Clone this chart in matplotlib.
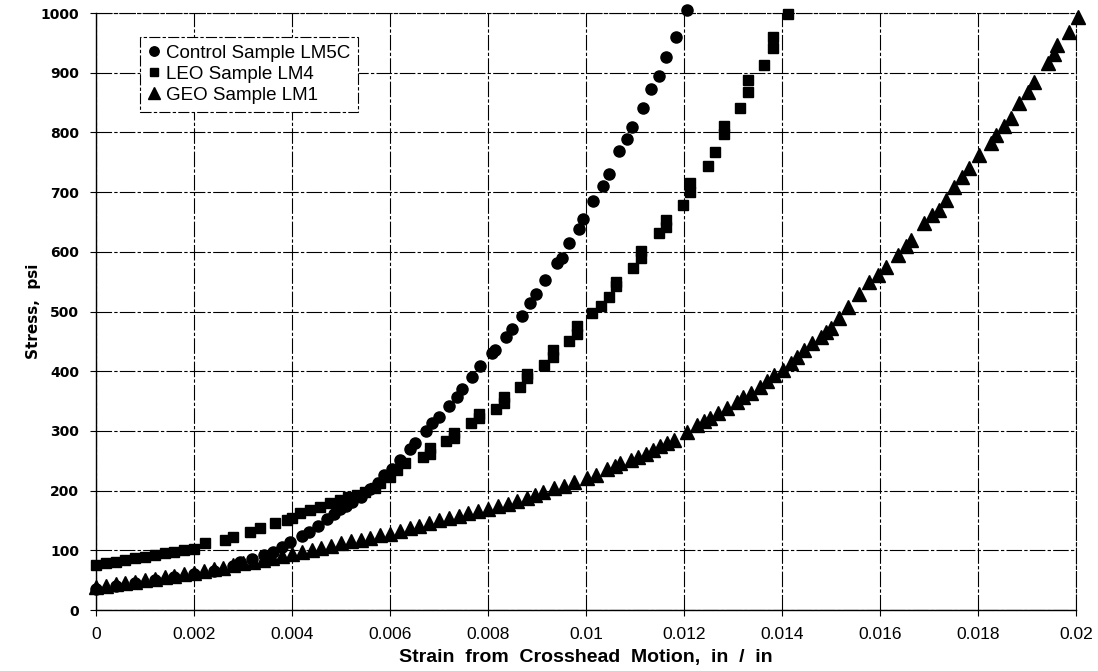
#!/usr/bin/env python3
import matplotlib

matplotlib.use("Agg")
from matplotlib import font_manager
import matplotlib.pyplot as plt
from matplotlib.ticker import FixedLocator

# strain (in/in) and stress (psi)
CONTROL_X = [
    0.0, 0.0004, 0.0008, 0.0012, 0.0016, 0.002, 0.0024, 0.0028,
    0.00294, 0.00318, 0.00342, 0.00362, 0.00379, 0.00396, 0.0042, 0.00434, 0.00454, 0.00471,
    0.00485, 0.00498, 0.0051, 0.00522, 0.0054, 0.0056, 0.00575, 0.00587, 0.00604, 0.00621,
    0.0064, 0.00652, 0.00674, 0.00686, 0.00699, 0.0072, 0.00737, 0.00747, 0.00768, 0.00783,
    0.00808, 0.00815, 0.00836, 0.00848, 0.0087, 0.00886, 0.00898, 0.00917, 0.00941, 0.00951,
    0.00965, 0.00986, 0.00994, 0.01014, 0.01035, 0.01047, 0.01068, 0.01084, 0.01094, 0.01116,
    0.01132, 0.01148, 0.01164, 0.01183, 0.01207,
]
CONTROL_Y = [
    36, 41, 45, 50, 55, 60, 66, 73,
    80, 86, 92, 98, 106, 114, 124, 130, 141, 152,
    161, 169, 175, 181, 190, 202, 213, 226, 237, 252,
    270, 280, 300, 313, 324, 342, 357, 370, 390, 409,
    430, 436, 458, 470, 493, 515, 530, 552, 581, 589,
    614, 639, 655, 685, 711, 731, 769, 789, 809, 841,
    872, 894, 926, 959, 1005,
]

LEO_X = [
    0.0, 0.0002, 0.0004, 0.0006, 0.0008, 0.001, 0.0012, 0.0014, 0.0016, 0.0018, 0.002,
    0.00223, 0.00264, 0.0028, 0.00315, 0.00335, 0.00366, 0.0039, 0.004, 0.00417, 0.00437,
    0.00458, 0.00478, 0.00498, 0.00515, 0.00533, 0.0055, 0.0057, 0.0058, 0.006, 0.00615,
    0.00631, 0.00667, 0.00682, 0.00682, 0.00715, 0.0073, 0.0073, 0.00766, 0.00781, 0.00781,
    0.00817, 0.00832, 0.00832, 0.00865, 0.0088, 0.0088, 0.00915, 0.00933, 0.00933, 0.00965,
    0.00982, 0.00982, 0.01013, 0.0103, 0.01047, 0.01062, 0.01062, 0.01095, 0.01113, 0.01113,
    0.01148, 0.01164, 0.01164, 0.01197, 0.01213, 0.01213, 0.01248, 0.01263, 0.01282, 0.01282,
    0.01314, 0.01331, 0.01331, 0.01363, 0.01382, 0.01382, 0.01412,
]
LEO_Y = [
    75, 78, 81, 84, 87, 89, 92, 95, 97, 100, 103,
    112, 117, 123, 131, 137, 145, 150, 154, 162, 167,
    173, 179, 184, 190, 193, 198, 205, 212, 223, 235,
    246, 256, 262, 271, 283, 288, 297, 313, 321, 329,
    337, 346, 357, 374, 388, 396, 410, 424, 436, 450,
    463, 475, 497, 509, 525, 542, 550, 573, 589, 602,
    632, 642, 654, 678, 701, 716, 743, 768, 798, 811,
    841, 868, 888, 913, 941, 960, 999,
]

GEO_X = [
    0.0, 0.0002, 0.0004, 0.0006, 0.0008, 0.001, 0.0012, 0.0014, 0.0016, 0.0018,
    0.002, 0.0022, 0.0024, 0.0026, 0.0028, 0.003, 0.0032, 0.0034, 0.0036, 0.0038,
    0.004, 0.0042, 0.0044, 0.0046, 0.0048, 0.005, 0.0052, 0.0054, 0.0056, 0.0058,
    0.006, 0.0062, 0.0064, 0.0066, 0.0068, 0.007, 0.0072, 0.0074, 0.0076, 0.0078,
    0.008, 0.0082, 0.0084, 0.0086,
    0.0088, 0.00895, 0.00913, 0.00934, 0.00955, 0.00975, 0.01002, 0.0102, 0.01043, 0.0106,
    0.0107, 0.01091, 0.01106, 0.01122, 0.01137, 0.01152, 0.01166, 0.0118, 0.01207, 0.01227,
    0.0124, 0.01254, 0.0127, 0.01288, 0.01309, 0.0132, 0.01336, 0.01356, 0.0137, 0.01384,
    0.01401, 0.01418, 0.01431, 0.01445, 0.01462, 0.01479, 0.0149, 0.015, 0.01516, 0.01534,
    0.01557, 0.01578, 0.01595, 0.01612, 0.01636, 0.01653, 0.01663, 0.0169, 0.01707, 0.01721,
    0.01734, 0.01751, 0.01768, 0.01782, 0.01802, 0.01826, 0.01837, 0.01854, 0.01867, 0.01884,
    0.01901, 0.01915, 0.01942, 0.01956, 0.01962, 0.01986, 0.02003,
]
GEO_Y = [
    38, 40, 43, 45, 47, 50, 52, 55, 57, 60,
    62, 65, 68, 71, 75, 78, 81, 84, 87, 90,
    93, 97, 101, 104, 108, 112, 115, 118, 121, 125,
    128, 132, 137, 141, 145, 150, 154, 158, 162, 166,
    170, 174, 178, 182,
    187, 192, 197, 204, 207, 215, 221, 226, 237, 242,
    246, 252, 257, 262, 268, 274, 280, 285, 299, 310,
    316, 321, 330, 338, 349, 356, 363, 373, 383, 394,
    402, 413, 424, 436, 447, 458, 465, 472, 489, 508,
    530, 550, 561, 575, 595, 609, 620, 648, 662, 670,
    687, 709, 726, 740, 762, 782, 796, 810, 824, 849,
    868, 885, 916, 932, 946, 969, 994,
]

SERIES_LABELS = ["Control Sample LM5C", "LEO Sample LM4", "GEO Sample LM1"]
X_TICKS = [0.0, 0.002, 0.004, 0.006, 0.008, 0.01, 0.012, 0.014, 0.016, 0.018, 0.02]
X_TICK_LABELS = ["0", "0.002", "0.004", "0.006", "0.008", "0.01", "0.012", "0.014", "0.016", "0.018", "0.02"]
Y_TICKS = [0, 100, 200, 300, 400, 500, 600, 700, 800, 900, 1000]

GRID_STYLE = (0, (14, 2, 3, 2))


def _pick_font(*names: str) -> list[str]:
    available = {font.name for font in font_manager.fontManager.ttflist}
    return [name for name in names if name in available] or ["DejaVu Sans"]


def main() -> None:
    narrow = _pick_font("Liberation Sans Narrow", "Liberation Sans")
    arial = _pick_font("Liberation Sans", "DejaVu Sans")

    fig = plt.figure(figsize=(10.98, 6.71), dpi=100)
    ax = fig.add_axes([0.0874, 0.0909, 0.8926, 0.8897])

    marker_kw = dict(linestyle="none", color="black", clip_on=False, zorder=3)
    ax.plot(CONTROL_X, CONTROL_Y, marker="o", markersize=8, label=SERIES_LABELS[0], **marker_kw)
    ax.plot(LEO_X, LEO_Y, marker="s", markersize=7.5, label=SERIES_LABELS[1], **marker_kw)
    ax.plot(GEO_X, GEO_Y, marker="^", markersize=9.5, label=SERIES_LABELS[2], **marker_kw)

    ax.set_xlim(0, 0.02)
    ax.set_ylim(0, 1000)
    ax.xaxis.set_major_locator(FixedLocator(X_TICKS))
    ax.set_xticklabels(X_TICK_LABELS, family=narrow, fontsize=12.5)
    ax.yaxis.set_major_locator(FixedLocator(Y_TICKS))
    for label in ax.get_yticklabels():
        label.set_fontweight("bold")
        label.set_fontsize(10)
        label.set_family("DejaVu Sans")

    ax.grid(True, color="black", linestyle=GRID_STYLE, linewidth=0.8)
    ax.set_axisbelow(True)
    for side, spine in ax.spines.items():
        spine.set_color("black")
        spine.set_linewidth(1.0 if side in ("left", "bottom") else 0.8)
        if side in ("top", "right"):
            spine.set_linestyle(GRID_STYLE)
    ax.tick_params(direction="out", length=4, width=0.8, colors="black", pad=8)

    ax.set_xlabel("Strain  from  Crosshead  Motion,  in  /  in", family=narrow,
                  fontweight="bold", fontsize=14, labelpad=5)
    ax.set_ylabel("Stress,  psi", family="DejaVu Sans", fontweight="bold", fontsize=11, labelpad=0)

    legend = ax.legend(
        loc="upper left",
        bbox_to_anchor=(0.045, 0.96),
        borderaxespad=0,
        frameon=True,
        fancybox=False,
        framealpha=1,
        edgecolor="black",
        prop={"family": arial, "size": 13.5},
        handlelength=0.7,
        handletextpad=0.3,
        labelspacing=0.22,
        borderpad=0.4,
        markerscale=0.85,
    )
    legend.get_frame().set_linewidth(0.8)
    legend.get_frame().set_linestyle((0, (10, 2, 3, 2)))

    fig.savefig("out.png", dpi=100)
    plt.close(fig)


if __name__ == "__main__":
    main()
